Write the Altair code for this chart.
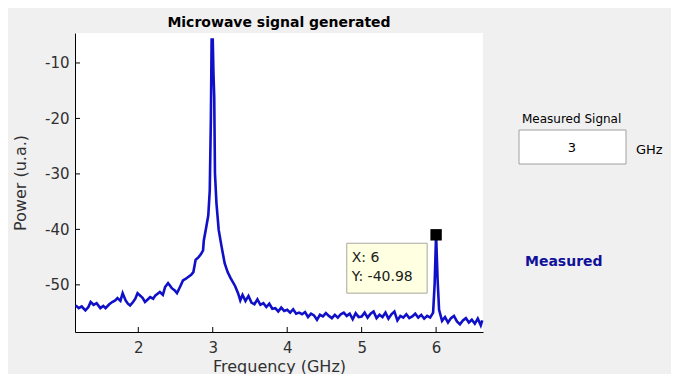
import altair as alt
import pandas as pd

freq = [1.16, 1.20, 1.24, 1.29, 1.33, 1.36, 1.40, 1.44, 1.49, 1.53, 1.56, 1.61, 1.65,
        1.69, 1.72, 1.76, 1.79, 1.83, 1.86, 1.89, 1.93, 1.96, 1.99, 2.03, 2.06, 2.09,
        2.13, 2.16, 2.20, 2.23, 2.26, 2.29, 2.33, 2.36, 2.40, 2.43, 2.45, 2.49, 2.52,
        2.56, 2.60, 2.64, 2.67, 2.71, 2.74, 2.77, 2.81, 2.84, 2.87, 2.88, 2.91, 2.94,
        2.96, 2.975, 2.985, 3.00, 3.01, 3.02, 3.03, 3.05, 3.08, 3.12, 3.16, 3.20,
        3.24, 3.30, 3.34, 3.37, 3.40, 3.44, 3.48, 3.52, 3.56, 3.60, 3.64, 3.68, 3.72,
        3.76, 3.80, 3.84, 3.88, 3.92, 3.96, 4.00, 4.04, 4.08, 4.12, 4.16, 4.20, 4.24,
        4.28, 4.32, 4.36, 4.40, 4.44, 4.48, 4.52, 4.56, 4.60, 4.64, 4.68, 4.72, 4.76,
        4.80, 4.84, 4.88, 4.92, 4.96, 5.00, 5.04, 5.08, 5.12, 5.16, 5.20, 5.24, 5.28,
        5.32, 5.36, 5.40, 5.44, 5.48, 5.52, 5.56, 5.60, 5.64, 5.68, 5.72, 5.76, 5.80,
        5.84, 5.88, 5.92, 5.96, 5.98, 6.00, 6.02, 6.04, 6.08, 6.12, 6.16, 6.20, 6.24,
        6.28, 6.32, 6.36, 6.40, 6.44, 6.48, 6.52, 6.56, 6.60, 6.62]

power = [-53.7, -54.2, -53.9, -54.6, -54.0, -53.1, -53.6, -53.3, -54.2, -53.8, -54.2, -53.5, -53.1,
         -52.8, -52.4, -52.9, -51.5, -52.8, -53.4, -53.7, -53.1, -52.5, -51.5, -52.0, -52.4, -53.1,
         -52.6, -52.2, -52.5, -51.9, -51.6, -51.3, -51.8, -50.4, -49.7, -50.2, -50.6, -51.0, -51.5,
         -50.4, -49.2, -48.9, -48.6, -48.2, -47.7, -45.5, -45.0, -44.5, -43.8, -42.0, -39.8, -37.5,
         -33.0, -20.0, -5.8, -5.8, -12.0, -16.1, -29.9, -35.3, -40.1, -43.2, -46.1, -47.7,
         -48.8, -50.2, -51.5, -52.8, -51.8, -52.9, -52.0, -53.2, -53.5, -52.6, -53.6, -53.3, -54.0,
         -53.4, -54.3, -54.2, -54.8, -54.1, -54.7, -54.5, -55.0, -54.4, -55.2, -55.0, -55.3, -54.9,
         -55.8, -55.2, -55.5, -56.3, -55.4, -55.7, -55.1, -55.6, -56.0, -55.4, -55.9, -55.3, -55.0,
         -55.6, -55.2, -56.2, -55.1, -55.8, -55.7, -55.0, -55.9, -55.2, -54.8, -56.0, -55.4, -55.8,
         -55.0, -56.1, -55.3, -54.8, -56.4, -55.6, -55.9, -55.3, -56.0, -55.7, -55.2, -55.9, -55.4,
         -56.1, -55.6, -55.9, -55.0, -50.0, -40.98, -49.0, -54.5, -56.5, -55.8, -56.8, -56.0, -55.6,
         -56.6, -57.1, -56.4, -56.0, -56.8, -56.3, -57.0, -56.1, -57.3, -56.4]

x_ticks = [2, 3, 4, 5, 6]
y_ticks = [-50, -40, -30, -20, -10]
x_domain = [1.15, 6.63]
y_domain = [-58.5, -4.6]

tip_x = [6.0]
tip_y = [-40.98]
tip_lines = ["X: 6", "Y: -40.98"]
tip_box_x = [4.80, 5.88]
tip_box_y = [-42.5, -51.5]

measured_value = "3"

W, H = 408, 299
FONT = "DejaVu Sans"
LINE_COLOR = "#1010c8"

df = pd.DataFrame({"f": freq, "p": power})

xs = alt.Scale(domain=x_domain, nice=False, zero=False)
ys = alt.Scale(domain=y_domain, nice=False, zero=False)

line = alt.Chart(df).mark_line(color=LINE_COLOR, strokeWidth=2.6, strokeJoin="miter").encode(
    x=alt.X("f:Q", scale=xs, title="Frequency (GHz)",
            axis=alt.Axis(values=x_ticks, ticks=False, grid=False, labelPadding=8,
                          titlePadding=3, domainColor="#000000",
                          labelExpr="'' + datum.value")),
    y=alt.Y("p:Q", scale=ys, title="Power (u.a.)",
            axis=alt.Axis(values=y_ticks, ticks=False, grid=False, labelPadding=6,
                          titlePadding=16, domainColor="#000000",
                          labelExpr="'' + datum.value")),
)

xt = alt.Chart(pd.DataFrame({"t": x_ticks})).mark_rule(color="#000000", strokeWidth=1).encode(
    x=alt.X("t:Q", scale=xs), y=alt.value(H), y2=alt.value(H - 5))
yt = alt.Chart(pd.DataFrame({"t": y_ticks})).mark_rule(color="#000000", strokeWidth=1).encode(
    y=alt.Y("t:Q", scale=ys), x=alt.value(0), x2=alt.value(5))

box_df = pd.DataFrame({"x1": [tip_box_x[0]], "x2": [tip_box_x[1]],
                       "y1": [tip_box_y[0]], "y2": [tip_box_y[1]]})
tip_box = alt.Chart(box_df).mark_rect(fill="#ffffe1", stroke="#a8a8a0", strokeWidth=1).encode(
    x=alt.X("x1:Q", scale=xs), x2="x2:Q", y=alt.Y("y1:Q", scale=ys), y2="y2:Q")

tip_text_df = pd.DataFrame({"x": [tip_box_x[0]] * 2, "y": [tip_box_y[0]] * 2,
                            "t": tip_lines, "dy": [15, 34]})
tip_text = alt.layer(*[
    alt.Chart(tip_text_df.iloc[[i]]).mark_text(align="left", baseline="middle", font=FONT,
                                              fontSize=14, color="#202020", dx=5,
                                              dy=int(tip_text_df.dy[i])).encode(
        x=alt.X("x:Q", scale=xs), y=alt.Y("y:Q", scale=ys), text="t:N")
    for i in range(2)
])

marker = alt.Chart(pd.DataFrame({"x": tip_x, "y": tip_y})).mark_point(
    shape="square", filled=True, color="#000000", size=130, opacity=1).encode(
    x=alt.X("x:Q", scale=xs), y=alt.Y("y:Q", scale=ys))

one = pd.DataFrame({"a": [0]})
lbl_sig = alt.Chart(one).mark_text(align="left", baseline="middle", font=FONT, fontSize=12,
                                   color="#000000").encode(
    x=alt.value(447), y=alt.value(86), text=alt.value("Measured Signal"))
edit_box = alt.Chart(one).mark_rect(fill="#ffffff", stroke="#a0a0a0", strokeWidth=1).encode(
    x=alt.value(444), x2=alt.value(551), y=alt.value(97), y2=alt.value(131))
edit_val = alt.Chart(one).mark_text(align="center", baseline="middle", font=FONT, fontSize=13,
                                    color="#000000").encode(
    x=alt.value(497), y=alt.value(115), text=alt.value(measured_value))
ghz = alt.Chart(one).mark_text(align="left", baseline="middle", font=FONT, fontSize=13,
                               color="#000000").encode(
    x=alt.value(561), y=alt.value(117), text=alt.value("GHz"))
measured = alt.Chart(one).mark_text(align="left", baseline="middle", font=FONT, fontSize=14,
                                    fontWeight="bold", color="#10109a").encode(
    x=alt.value(450), y=alt.value(229), text=alt.value("Measured"))

chart = alt.layer(line, xt, yt, tip_box, tip_text, marker,
                  lbl_sig, edit_box, edit_val, ghz, measured).properties(
    width=W, height=H,
    title=alt.TitleParams("Microwave signal generated", font=FONT, fontSize=14,
                          fontWeight="bold", color="#000000", anchor="middle", offset=3),
    autosize=alt.AutoSizeParams(type="none"),
    padding={"left": 67, "top": 25, "right": 188, "bottom": 42},
    background="#f0f0f0",
).configure_view(fill="#ffffff", strokeWidth=0).configure_axis(
    labelFont=FONT, labelFontSize=15, labelColor="#303030",
    titleFont=FONT, titleFontSize=16, titleFontWeight="normal", titleColor="#303030",
    domainWidth=1,
)

chart.save("out.html", embed_options={"renderer": "svg", "actions": False})
